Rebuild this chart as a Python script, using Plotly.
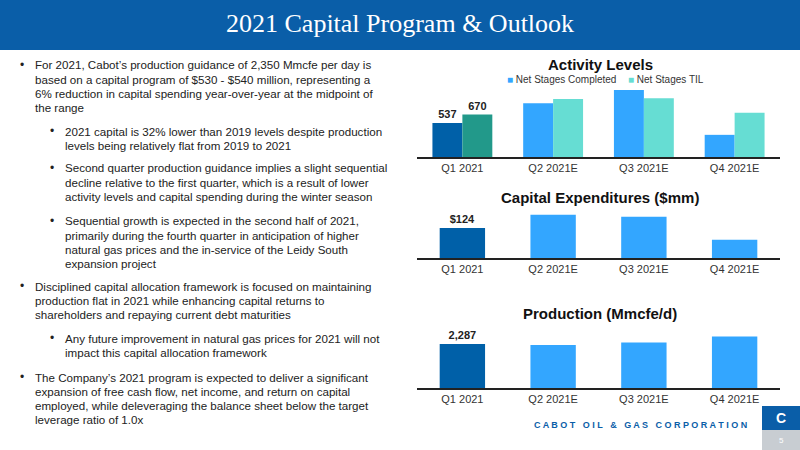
import plotly.graph_objects as go

quarters = ["Q1 2021", "Q2 2021E", "Q3 2021E", "Q4 2021E"]
stages_completed = [537, 850, 1060, 350]
stages_til = [670, 915, 930, 700]
capex = [124, 178, 170, 75]
production = [2287, 2235, 2370, 2680]

DARK = "#0060A8"; TEAL = "#22998A"; BLUE = "#33A6FF"; AQUA = "#66DDD3"
W, H = 800, 450
def py(p): return 1 - p / H

fig = go.Figure()
fig.add_bar(x=quarters, y=stages_completed, marker_color=[DARK, BLUE, BLUE, BLUE],
            text=["<b>537</b>", "", "", ""], textposition="outside", xaxis="x", yaxis="y", width=0.33, offset=-0.33)
fig.add_bar(x=quarters, y=stages_til, marker_color=[TEAL, AQUA, AQUA, AQUA],
            text=["<b>670</b>", "", "", ""], textposition="outside", xaxis="x", yaxis="y", width=0.33, offset=0)
fig.add_bar(x=quarters, y=capex, marker_color=[DARK, BLUE, BLUE, BLUE],
            text=["<b>$124</b>", "", "", ""], textposition="outside", xaxis="x2", yaxis="y2", width=0.5)
fig.add_bar(x=quarters, y=production, marker_color=[DARK, BLUE, BLUE, BLUE],
            text=["<b>2,287</b>", "", "", ""], textposition="outside", xaxis="x3", yaxis="y3", width=0.5)
fig.update_traces(showlegend=False, textfont=dict(size=11, color="#222", family="Liberation Sans"),
                  cliponaxis=False, marker_line_width=0)

xd = [417 / W, 780 / W]
axx = dict(domain=xd, showgrid=False, showline=True, linecolor="#222", linewidth=2,
           ticks="", tickfont=dict(size=11, color="#333", family="Liberation Sans"), fixedrange=True)
axy = dict(visible=False, showgrid=False, fixedrange=True)
fig.update_layout(
    width=W, height=H, margin=dict(l=0, r=0, t=0, b=0), plot_bgcolor="white", paper_bgcolor="white",
    xaxis=dict(axx, anchor="y"), yaxis=dict(axy, domain=[py(157), py(88)], range=[0, 1090], anchor="x"),
    xaxis2=dict(axx, anchor="y2"), yaxis2=dict(axy, domain=[py(258), py(210)], range=[0, 198], anchor="x2"),
    xaxis3=dict(axx, anchor="y3"), yaxis3=dict(axy, domain=[py(388), py(327)], range=[0, 3170], anchor="x3"),
    font=dict(family="Liberation Sans"),
)

shapes = [
    dict(type="rect", xref="paper", yref="paper", x0=0, x1=1, y0=py(50), y1=1, fillcolor="#0A5EA8", line_width=0),
    dict(type="rect", xref="paper", yref="paper", x0=762/W, x1=1, y0=py(430), y1=py(406), fillcolor="#0A5EA8", line_width=0),
    dict(type="rect", xref="paper", yref="paper", x0=762/W, x1=1, y0=0, y1=py(430), fillcolor="#C8CDD2", line_width=0),
]
fig.update_layout(shapes=shapes)

ann = []
def A(x, y, text, **kw):
    d = dict(xref="paper", yref="paper", x=x / W, y=py(y), text=text, showarrow=False,
             yanchor="middle", xanchor="center")
    d.update(kw); ann.append(d)

A(400, 23, "2021 Capital Program &amp; Outlook", font=dict(family="Liberation Serif", size=26, color="white"))
for cy, t in [(64, "Activity Levels"), (198, "Capital Expenditures ($mm)"), (313, "Production (Mmcfe/d)")]:
    A(600, cy, "<b>%s</b>" % t, font=dict(size=15, color="#111"))
A(505, 79, "<span style='color:%s'>■</span> Net Stages Completed" % BLUE, xanchor="left", font=dict(size=10, color="#333"))
A(626, 79, "<span style='color:%s'>■</span> Net Stages TIL" % AQUA, xanchor="left", font=dict(size=10, color="#333"))
A(640, 425, "<b>C A B O T   O I L   &amp;   G A S   C O R P O R A T I O N</b>", font=dict(size=9, color="#0A5EA8", family="Liberation Sans"))
A(781, 418, "<b>C</b>", font=dict(size=14, color="white"))
A(781, 440, "5", font=dict(size=8, color="white"))

bullets = [
    (18, 33, 65, ["For 2021, Cabot’s production guidance of 2,350 Mmcfe per day is",
                  "based on a capital program of $530 - $540 million, representing a",
                  "6% reduction in capital spending year-over-year at the midpoint of",
                  "the range"]),
    (48, 63, 131, ["2021 capital is 32% lower than 2019 levels despite production",
                   "levels being relatively flat from 2019 to 2021"]),
    (48, 63, 168, ["Second quarter production guidance implies a slight sequential",
                   "decline relative to the first quarter, which is a result of lower",
                   "activity levels and capital spending during the winter season"]),
    (48, 63, 221, ["Sequential growth is expected in the second half of 2021,",
                   "primarily during the fourth quarter in anticipation of higher",
                   "natural gas prices and the in-service of the Leidy South",
                   "expansion project"]),
    (18, 33, 286, ["Disciplined capital allocation framework is focused on maintaining",
                   "production flat in 2021 while enhancing capital returns to",
                   "shareholders and repaying current debt maturities"]),
    (48, 63, 338, ["Any future improvement in natural gas prices for 2021 will not",
                   "impact this capital allocation framework"]),
    (18, 33, 377, ["The Company’s 2021 program is expected to deliver a significant",
                   "expansion of free cash flow, net income, and return on capital",
                   "employed, while deleveraging the balance sheet below the target",
                   "leverage ratio of 1.0x"]),
]
for bx, tx, y0, lines in bullets:
    A(bx, y0, "•", xanchor="left", font=dict(size=12, color="#222"))
    for i, ln in enumerate(lines):
        A(tx, y0 + i * 14.1, ln.replace("&", "&amp;"), xanchor="left", font=dict(size=11.6, color="#222"))
fig.update_layout(annotations=ann)
fig.write_html("out.html", config={"displayModeBar": False},
               post_script="document.body.style.margin='0';")
